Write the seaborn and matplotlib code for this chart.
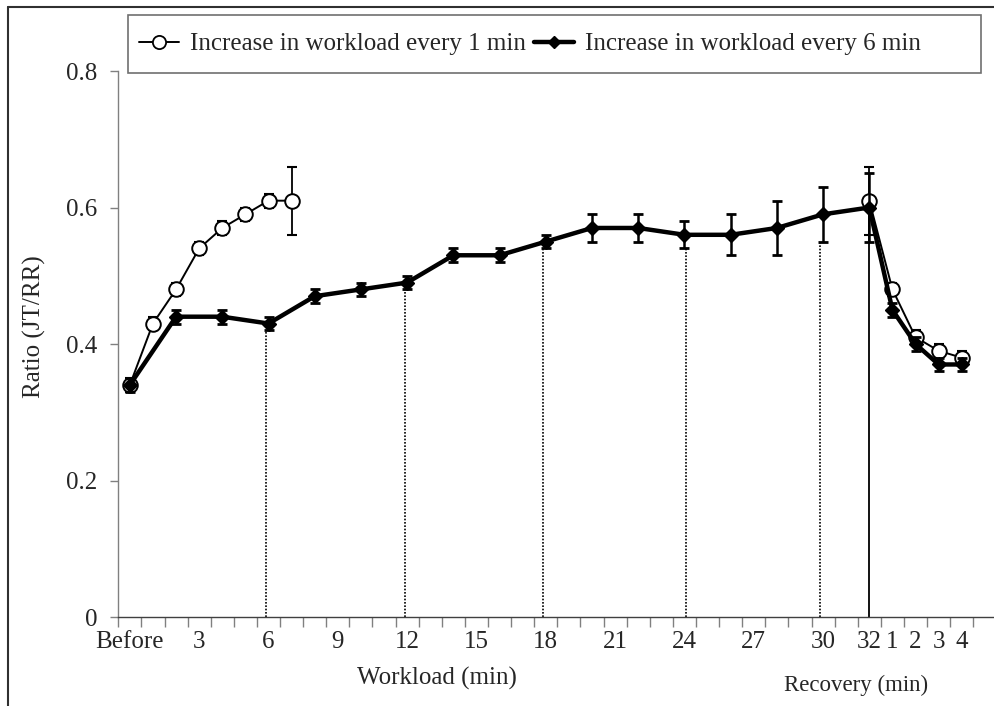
import matplotlib
matplotlib.use("Agg")
import matplotlib.pyplot as plt
from matplotlib.lines import Line2D
from matplotlib.patches import Rectangle
import numpy as np
import pandas as pd
import seaborn as sns

# categories along x (0 = Before, 1..32 = workload min, 33..36 = recovery min)
n_cat = 38
tick_pos = [0, 3, 6, 9, 12, 15, 18, 21, 24, 27, 30, 32, 33, 34, 35, 36]
tick_labels = ["Before", "3", "6", "9", "12", "15", "18", "21", "24", "27",
               "30", "32", "1", "2", "3", "4"]

# increase every 1 min
x_1min = [0, 1, 2, 3, 4, 5, 6, 7, 32, 33, 34, 35, 36]
y_1min = [0.34, 0.43, 0.48, 0.54, 0.57, 0.59, 0.61, 0.61, 0.61, 0.48, 0.41, 0.39, 0.38]
e_1min = [0.01, 0.01, 0.01, 0.01, 0.01, 0.01, 0.01, 0.05, 0.05, 0.01, 0.01, 0.01, 0.01]
seg_1min = [0, 0, 0, 0, 0, 0, 0, 0, 1, 1, 1, 1, 1]

# increase every 6 min
x_6min = [0, 2, 4, 6, 8, 10, 12, 14, 16, 18, 20, 22, 24, 26, 28, 30, 32, 33, 34, 35, 36]
y_6min = [0.34, 0.44, 0.44, 0.43, 0.47, 0.48, 0.49, 0.53, 0.53, 0.55, 0.57, 0.57,
          0.56, 0.56, 0.57, 0.59, 0.60, 0.45, 0.40, 0.37, 0.37]
e_6min = [0.01, 0.01, 0.01, 0.01, 0.01, 0.01, 0.01, 0.01, 0.01, 0.01, 0.02, 0.02,
          0.02, 0.03, 0.04, 0.04, 0.05, 0.01, 0.01, 0.01, 0.01]

# dotted stage markers (6, 12, 18, 24, 30 min) and end of exercise (32)
stage_min = [6, 12, 18, 24, 30]
stage_x = [5.9, 11.9, 17.9, 24.05, 29.85]
end_min = 32

sns.set_theme(style="white")
plt.rcParams["font.family"] = ["Liberation Serif", "DejaVu Serif"]

fig = plt.figure(figsize=(9.94, 7.06), dpi=100)
W, H = 994, 706
ax = fig.add_axes([118.3 / W, 1 - 617 / H, (996.4 - 118.3) / W, (617 - 71) / H])

df1 = pd.DataFrame({"x": x_1min, "y": y_1min, "seg": seg_1min})
df6 = pd.DataFrame({"x": x_6min, "y": y_6min, "seg": 0})

# vertical reference lines
lookup = dict(zip(x_6min, zip(y_6min, e_6min)))
for m, xs in zip(stage_min, stage_x):
    top = lookup[m][0] - lookup[m][1]
    ax.plot([xs, xs], [0, top], color="black", lw=1.2, ls=(0, (1, 1)), zorder=1)
ax.plot([end_min, end_min], [0, lookup[end_min][0]], color="black", lw=1.3, zorder=1)

ax.errorbar(x_1min, y_1min, yerr=e_1min, fmt="none", ecolor="black",
            elinewidth=1.3, capsize=3.8, capthick=1.5, zorder=2)
sns.lineplot(data=df1, x="x", y="y", units="seg", estimator=None, ax=ax,
             color="black", lw=1.4, marker="o", ms=10.5, mfc="white",
             mec="black", mew=1.4, legend=False, zorder=3)

ax.errorbar(x_6min, y_6min, yerr=e_6min, fmt="none", ecolor="black",
            elinewidth=1.8, capsize=3.8, capthick=2, zorder=4)
sns.lineplot(data=df6, x="x", y="y", units="seg", estimator=None, ax=ax,
             color="black", lw=3.2, marker="D", ms=7, mfc="black",
             mec="black", mew=1, legend=False, zorder=5)

ax.set_xlim(-0.5, n_cat - 0.5)
ax.set_ylim(0, 0.8)
ax.set_yticks([0, 0.2, 0.4, 0.6, 0.8])
ax.set_yticklabels(["0", "0.2", "0.4", "0.6", "0.8"])
ax.set_xticks(np.arange(n_cat + 1) - 0.5)
ax.set_xticklabels([])
ax.set_xticks(tick_pos, tick_labels, minor=True)
ax.tick_params(axis="x", which="major", direction="out", length=7, width=1,
               color="#808080", bottom=True)
ax.tick_params(axis="x", which="minor", length=0, pad=10, labelsize=18)
ax.tick_params(axis="y", direction="out", length=6, width=1, color="#808080",
               pad=9, labelsize=18, left=True)
ax.set_xlabel("")
ax.set_ylabel("")
ax.grid(False)
for s in ["top", "right"]:
    ax.spines[s].set_visible(False)
ax.spines["left"].set_color("#808080")
ax.spines["left"].set_linewidth(1)
ax.spines["bottom"].set_color("#404040")
ax.spines["bottom"].set_linewidth(1)

fig.text(34 / W, 1 - 327 / H, "Ratio (JT/RR)", rotation=90, ha="center",
         va="center", fontsize=18)
fig.text(437 / W, 1 - 678 / H, "Workload (min)", ha="center", va="center", fontsize=18)
fig.text(856 / W, 1 - 685 / H, "Recovery (min)", ha="center", va="center", fontsize=16.5)

# legend: box drawn separately so it can be wider than its entries
fig.add_artist(Rectangle((128 / W, 1 - 73 / H), (981 - 128) / W, 58 / H,
                         transform=fig.transFigure, fill=True, facecolor="white",
                         edgecolor="#707070", lw=1.2, zorder=3))
handles = [
    Line2D([], [], color="black", lw=1.4, marker="o", ms=9.5, mfc="white", mec="black", mew=1.3),
    Line2D([], [], color="black", lw=3.2, marker="D", ms=6.5, mfc="black", mec="black"),
]
leg = fig.legend(handles, ["Increase in workload every 1 min", "Increase in workload every 6 min"],
                 loc="center left", bbox_to_anchor=(128 / W, 1 - 44 / H), ncol=2,
                 frameon=False, borderaxespad=0, handlelength=1.6, handletextpad=0.45,
                 columnspacing=0.3, borderpad=0.45, fontsize=18)
leg.set_zorder(4)

# outer frame (top and left edges)
fig.add_artist(Line2D([8 / W, 1], [1 - 7 / H, 1 - 7 / H], transform=fig.transFigure,
                      color="#303030", lw=1.5))
fig.add_artist(Line2D([8 / W, 8 / W], [0, 1 - 7 / H], transform=fig.transFigure,
                      color="#303030", lw=1.5))

fig.savefig("out.png", dpi=100)
